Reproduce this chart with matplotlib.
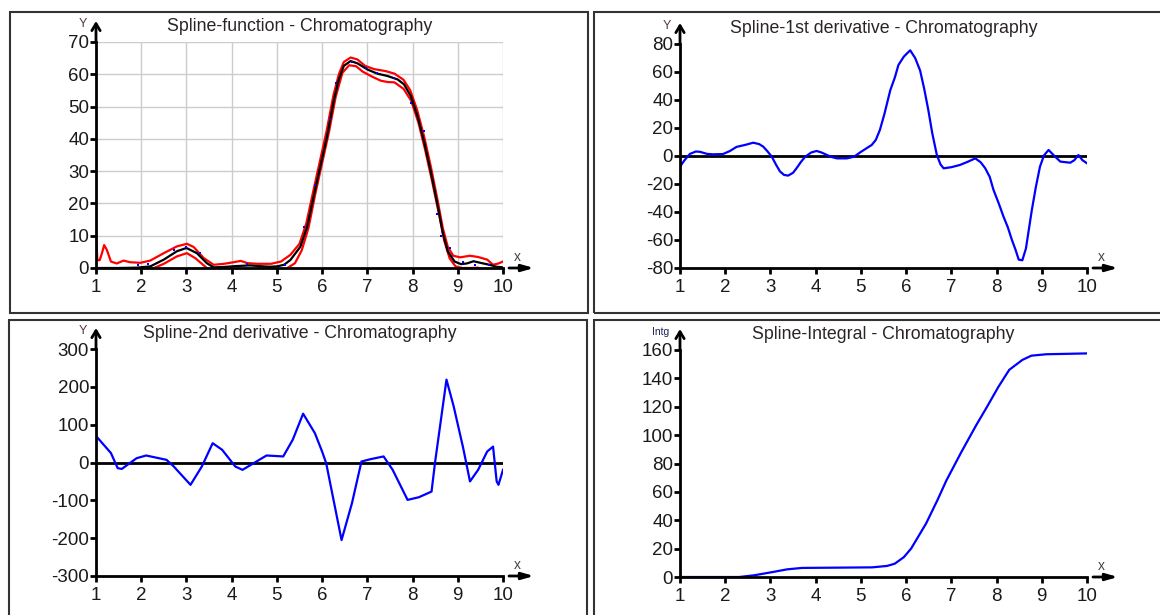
import matplotlib
matplotlib.use('Agg')
import matplotlib.pyplot as plt
from matplotlib.patches import Rectangle
from matplotlib.transforms import offset_copy

plt.rcParams['font.family'] = ['Liberation Sans', 'DejaVu Sans']
plt.rcParams['axes.unicode_minus'] = False

W, H = 1160, 615

# spline fit (black), confidence bands (red), measured points (blue)
fit_x = [1.0, 1.5, 1.9, 2.2, 2.5, 2.79, 3.0, 3.23, 3.45, 3.6, 3.8, 4.1, 4.4, 4.7, 4.85, 5.0,
         5.16, 5.3, 5.52, 5.67, 5.81, 5.96, 6.11, 6.26, 6.37, 6.48, 6.63, 6.78, 7.0, 7.22,
         7.44, 7.67, 7.81, 7.96, 8.11, 8.26, 8.41, 8.56, 8.67, 8.78, 8.93, 9.07, 9.2, 9.35,
         9.5, 9.7, 9.85, 10.0]
fit_y = [0.0, 0.0, 0.1, 0.5, 2.6, 5.2, 6.2, 4.6, 1.5, 0.2, 0.3, 0.6, 0.8, 0.5, 0.4, 0.5,
         1.0, 2.5, 6.6, 12.8, 22.0, 31.5, 40.8, 52.0, 58.4, 62.6, 64.1, 63.4, 61.5, 60.2,
         59.5, 58.4, 56.9, 53.3, 47.0, 38.8, 29.4, 19.0, 10.8, 5.1, 2.0, 1.2, 1.4, 2.1,
         1.6, 1.0, 0.4, 0.2]

upper_x = [1.0, 1.03, 1.08, 1.13, 1.18, 1.24, 1.33, 1.46, 1.61, 1.75, 1.98, 2.2, 2.5, 2.79,
           3.01, 3.16, 3.38, 3.6, 3.83, 4.05, 4.2, 4.35, 4.57, 4.87, 5.09, 5.3, 5.5, 5.65,
           5.8, 5.95, 6.1, 6.25, 6.37, 6.48, 6.63, 6.78, 6.95, 7.15, 7.4, 7.6, 7.8, 7.95,
           8.1, 8.26, 8.41, 8.56, 8.67, 8.78, 8.9, 9.05, 9.27, 9.45, 9.65, 9.78, 9.9, 10.0]
upper_y = [10.3, 2.5, 2.4, 4.5, 7.1, 5.6, 2.0, 1.4, 2.3, 1.8, 1.6, 2.3, 4.6, 6.7,
           7.5, 6.5, 3.1, 1.0, 1.3, 1.8, 2.2, 1.5, 1.3, 1.3, 2.0, 4.1, 7.5, 13.8,
           23.5, 33.0, 42.5, 53.5, 60.0, 63.8, 65.2, 64.6, 62.6, 61.6, 61.0, 60.2, 58.3, 55.0,
           49.0, 40.5, 31.0, 20.5, 12.3, 6.5, 3.8, 3.3, 3.8, 3.4, 2.6, 1.0, 1.4, 2.0]

lower_x = [1.0, 1.5, 2.0, 2.2, 2.5, 2.79, 3.01, 3.2, 3.45, 3.6, 4.0, 4.3, 4.6, 5.0, 5.2,
           5.4, 5.55, 5.7, 5.85, 6.0, 6.15, 6.3, 6.45, 6.6, 6.75, 6.9, 7.1, 7.3, 7.45,
           7.6, 7.8, 7.97, 8.13, 8.28, 8.43, 8.58, 8.7, 8.82, 8.95, 9.1, 9.3, 9.45, 9.55,
           9.8, 10.0]
lower_y = [-2.0, -2.0, -1.5, -0.5, 1.3, 3.6, 4.6, 3.0, 0.0, -1.5, -1.0, -0.2, -1.0, -1.5, -0.3,
           1.5, 5.5, 12.5, 23.0, 32.5, 42.0, 53.0, 60.5, 62.8, 62.5, 60.8, 59.3, 58.0, 57.6,
           57.5, 55.5, 51.8, 45.0, 36.5, 27.0, 17.0, 8.5, 3.0, 0.5, 0.0, 0.0, 0.1, -1.0,
           -1.5, -1.5]

pts_x = [1.0, 1.38, 1.57, 1.92, 2.14, 2.72, 2.98, 3.3, 3.6, 4.0, 4.34, 4.6, 4.86, 5.18, 5.61,
         5.85, 6.17, 6.3, 6.67, 6.96, 7.22, 7.59, 7.96, 8.26, 8.53, 8.64, 8.83, 9.11, 9.38,
         9.7, 9.9]
pts_y = [0.0, 0.0, 0.0, 1.0, 1.2, 5.7, 6.6, 4.6, 0.0, 0.0, 1.3, 0.0, 0.0, 1.0, 12.8,
         25.8, 46.0, 57.4, 63.8, 62.0, 60.5, 59.0, 51.2, 42.4, 16.8, 10.0, 6.1, 2.0, 0.9,
         0.9, 0.0]

# first derivative
d1_x = [1.0, 1.1, 1.22, 1.35, 1.44, 1.6, 1.73, 1.95, 2.1, 2.25, 2.45, 2.62, 2.75, 2.84, 2.93,
        3.03, 3.12, 3.21, 3.3, 3.39, 3.5, 3.58, 3.68, 3.77, 3.9, 4.02, 4.13, 4.25, 4.36,
        4.47, 4.69, 4.85, 4.98, 5.1, 5.24, 5.33, 5.42, 5.52, 5.65, 5.75, 5.83, 5.95, 6.09,
        6.2, 6.31, 6.4, 6.49, 6.58, 6.68, 6.76, 6.83, 7.0, 7.19, 7.35, 7.53, 7.65, 7.75,
        7.85, 7.93, 8.05, 8.15, 8.25, 8.34, 8.42, 8.49, 8.57, 8.65, 8.78, 8.87, 8.96, 9.05,
        9.15, 9.28, 9.41, 9.63, 9.72, 9.81, 9.9, 10.0]
d1_y = [-7.6, -3.0, 1.5, 3.2, 3.0, 1.5, 1.2, 1.4, 3.5, 6.5, 8.0, 9.5, 8.5, 6.7, 3.5,
        -0.5, -6.0, -11.0, -13.5, -14.0, -12.0, -8.6, -4.0, -0.5, 2.5, 3.6, 2.5, 0.7, -0.8,
        -1.7, -1.7, -0.5, 2.5, 5.0, 7.9, 11.5, 18.6, 30.0, 47.0, 56.0, 65.0, 71.0, 75.5,
        70.0, 61.0, 48.0, 33.0, 16.0, 0.7, -6.0, -8.8, -8.0, -6.4, -4.3, -1.7, -4.5, -8.8,
        -15.0, -24.0, -34.0, -43.0, -51.0, -60.0, -67.0, -74.0, -74.5, -66.0, -38.6, -22.0, -7.6, 0.5,
        4.3, 0.0, -4.0, -4.8, -3.0, 0.7, -3.0, -5.2]

# second derivative
d2_x = [1.03, 1.33, 1.48, 1.57, 1.9, 2.11, 2.56, 2.72, 3.09, 3.34, 3.58, 3.79, 4.08, 4.24,
        4.61, 4.77, 5.14, 5.35, 5.58, 5.84, 6.0, 6.09, 6.43, 6.66, 6.87, 7.07, 7.36, 7.56,
        7.89, 8.14, 8.42, 8.5, 8.75, 8.91, 9.12, 9.27, 9.45, 9.65, 9.78, 9.86, 9.9, 10.0]
d2_y = [66, 25, -15, -17, 11.5, 18.5, 7, -10.6, -59, -10.6, 51, 33.5, -10.6, -19.4,
        7, 18.5, 16, 60, 129, 77.6, 29, -1.8, -205, -107.6, 2.6, 8.8, 16, -19.4,
        -98.8, -91.8, -76.8, 2.6, 219, 148, 38, -50, -19.4, 29, 42, -50, -59, -19.4]

# integral
int_x = [1.0, 2.31, 2.64, 3.05, 3.37, 3.7, 4.52, 5.25, 5.58, 5.75, 5.95, 6.11, 6.44, 6.69,
         6.89, 7.22, 7.55, 7.79, 8.04, 8.28, 8.57, 8.77, 9.1, 10.0]
int_y = [0, 0, 1.2, 3.5, 5.4, 6.4, 6.6, 6.8, 7.8, 9.4, 14, 20, 37.6, 54,
         68, 88, 107, 120, 134, 146, 153, 156, 157, 157.6]

x_ticks = list(range(1, 11))


def px_rect(l, t, r, b):
    # pixel box -> figure fraction rect
    return [l / W, 1 - b / H, (r - l) / W, (b - t) / H]


def style_axes(fig, ax, ylim, yticks, title, ylabel, ylabel_color, ylabel_size=9):
    ax.set_xlim(1, 10)
    ax.set_ylim(*ylim)
    ax.set_xticks(x_ticks)
    ax.set_yticks(yticks)
    ax.spines['top'].set_visible(False)
    ax.spines['right'].set_visible(False)
    for s in ['left', 'bottom']:
        ax.spines[s].set_linewidth(2)
        ax.spines[s].set_color('black')
        ax.spines[s].set_zorder(5)
    ax.tick_params(length=4, width=2, labelsize=13.5, labelcolor='#1a1a1a')
    ax.tick_params(axis='y', pad=1)
    ax.tick_params(axis='x', pad=4)
    ax.set_title(title, fontsize=12.8, pad=8, color='#2b2424')
    ax.patch.set_alpha(0)

    # y axis arrow
    ax.annotate('', xy=(0, 1), xycoords='axes fraction',
                xytext=(0, 21), textcoords='offset pixels',
                arrowprops=dict(arrowstyle='<-,head_length=0.5,head_width=0.3', lw=2,
                                color='black', shrinkA=0, shrinkB=0))
    ax.annotate(ylabel, xy=(0, 1), xycoords='axes fraction',
                xytext=(-13 if ylabel == 'Y' else -19, 18), textcoords='offset pixels',
                ha='center', va='center', fontsize=ylabel_size, color=ylabel_color)

    # x axis arrow, detached from the axis end
    tail = offset_copy(ax.transAxes, fig=fig, x=6, y=0, units='dots')
    tip = offset_copy(ax.transAxes, fig=fig, x=31, y=0, units='dots')
    ax.annotate('', xy=(1, 0), xycoords=tip, xytext=(1, 0), textcoords=tail,
                arrowprops=dict(arrowstyle='-|>,head_length=0.7,head_width=0.2', lw=2,
                                color='black', shrinkA=0, shrinkB=0))
    ax.annotate('x', xy=(1, 0), xycoords='axes fraction',
                xytext=(14, 11), textcoords='offset pixels',
                ha='center', va='center', fontsize=10, color='#444444')


def main():
    fig = plt.figure(figsize=(W / 100, H / 100), dpi=100)

    # panel frames
    for l, t, r, b in [(10, 12, 588, 313), (594, 12, 1166, 313),
                       (9, 320, 587, 620), (594, 320, 1166, 620)]:
        fig.add_artist(Rectangle((l / W, 1 - b / H), (r - l) / W, (b - t) / H,
                                 transform=fig.transFigure, fill=False,
                                 lw=1.5, ec='#333333'))

    ax1 = fig.add_axes(px_rect(96, 42, 503, 268))
    ax2 = fig.add_axes(px_rect(680, 44, 1087, 268))
    ax3 = fig.add_axes(px_rect(96, 349, 503, 576))
    ax4 = fig.add_axes(px_rect(680, 350, 1087, 577))

    # spline function
    ax1.grid(True, color='#cccccc', lw=1)
    ax1.set_axisbelow(True)
    ax1.plot(upper_x, upper_y, color='#ff0000', lw=1.6)
    ax1.plot(lower_x, lower_y, color='#ff0000', lw=1.6)
    ax1.plot(fit_x, fit_y, color='black', lw=1.6)
    ax1.plot(pts_x, pts_y, 's', color='#0000ff', ms=2, mew=0, zorder=4)
    style_axes(fig, ax1, (0, 70), range(0, 71, 10),
               'Spline-function - Chromatography', 'Y', '#5a3a3a')

    # 1st derivative
    ax2.axhline(0, color='black', lw=2)
    ax2.plot(d1_x, d1_y, color='#0000ff', lw=1.6)
    style_axes(fig, ax2, (-80, 80), range(-80, 81, 20),
               'Spline-1st derivative - Chromatography', 'Y', '#5a3a3a')

    # 2nd derivative
    ax3.axhline(0, color='black', lw=2)
    ax3.plot(d2_x, d2_y, color='#0000ff', lw=1.6)
    style_axes(fig, ax3, (-300, 300), range(-300, 301, 100),
               'Spline-2nd derivative - Chromatography', 'Y', '#5a3a3a')

    # integral
    ax4.plot(int_x, int_y, color='#0000ff', lw=1.6)
    style_axes(fig, ax4, (0, 160), range(0, 161, 20),
               'Spline-Integral - Chromatography', 'Intg', '#20205a', ylabel_size=7.5)

    fig.savefig('out.png', dpi=100)


main()
